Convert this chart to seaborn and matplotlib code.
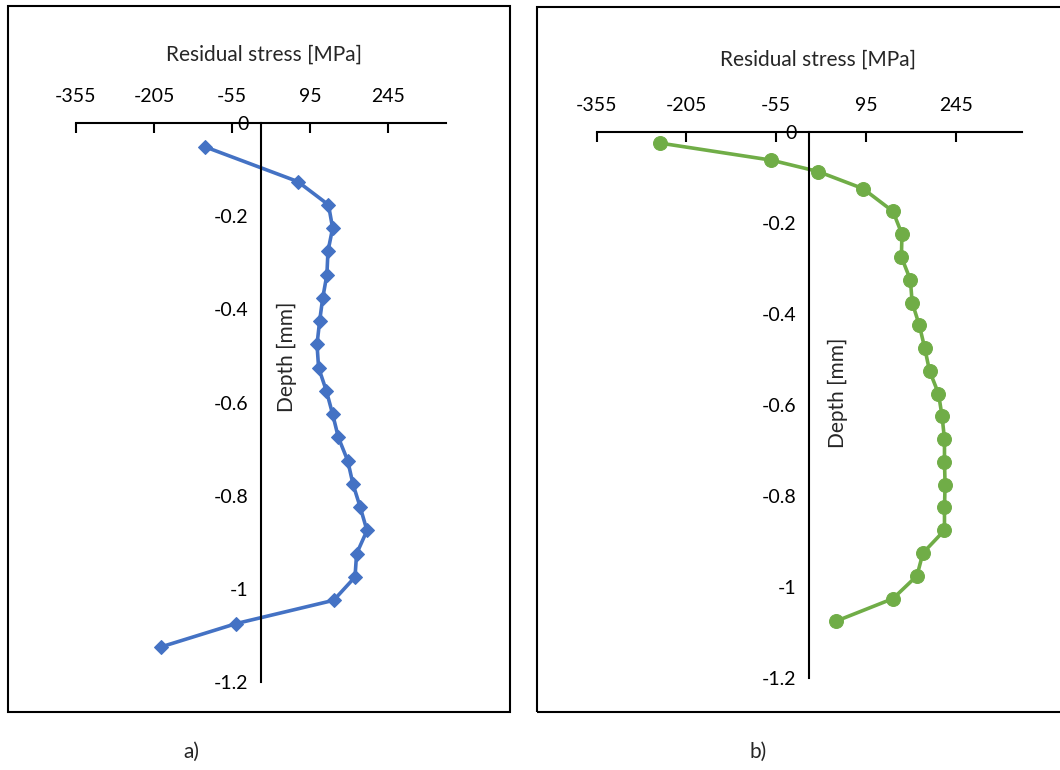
import pandas as pd
import matplotlib.pyplot as plt
import seaborn as sns
from matplotlib.patches import Rectangle
from matplotlib.ticker import FuncFormatter

# panel a) - diamonds, blue
stress_a = [-108, 71, 130, 138, 129, 127, 119, 113, 108, 111, 126, 138, 149, 167,
            177, 191, 204, 184, 181, 140, -47, -191]
depth_a = [-0.05, -0.125, -0.175, -0.225, -0.275, -0.325, -0.375, -0.425, -0.475,
           -0.525, -0.575, -0.625, -0.675, -0.725, -0.775, -0.825, -0.875, -0.925,
           -0.975, -1.025, -1.075, -1.125]

# panel b) - circles, green
stress_b = [-249, -63, 15, 90, 140, 155, 154, 169, 172, 184, 193, 201, 216, 222,
            226, 226, 227, 226, 226, 190, 180, 140, 44]
depth_b = [-0.025, -0.0625, -0.0875, -0.125, -0.175, -0.225, -0.275, -0.325, -0.375,
           -0.425, -0.475, -0.525, -0.575, -0.625, -0.675, -0.725, -0.775, -0.825,
           -0.875, -0.925, -0.975, -1.025, -1.075]

x_ticks = [-355, -205, -55, 95, 245]
y_ticks = [0, -0.2, -0.4, -0.6, -0.8, -1, -1.2]

sns.set_style("white")
plt.rcParams["font.family"] = ["Lato", "DejaVu Sans"]
plt.rcParams["axes.unicode_minus"] = False

fig = plt.figure(figsize=(10.6, 7.7), dpi=100)
W, H = 1060, 770


def px_axes(x0, y0, x1, y1):
    return fig.add_axes([x0 / W, 1 - y1 / H, (x1 - x0) / W, (y1 - y0) / H])


def style_panel(ax, label_xy, depth_xy, letter, letter_xy):
    ax.set_xlim(-355, 355)
    ax.set_ylim(-1.2, 0)
    ax.set_xticks(x_ticks)
    ax.set_yticks(y_ticks)
    ax.yaxis.set_major_formatter(FuncFormatter(lambda v, p: f"{v:g}"))
    for s in ["bottom", "right"]:
        ax.spines[s].set_visible(False)
    ax.spines["left"].set_position(("data", 0))
    for s in ["left", "top"]:
        ax.spines[s].set_color("black")
        ax.spines[s].set_linewidth(1.5)
    ax.xaxis.tick_top()
    ax.xaxis.set_label_position("top")
    ax.tick_params(axis="x", direction="in", length=7, width=1.5, pad=13,
                   labelsize=14, colors="black")
    ax.tick_params(axis="y", direction="out", length=5, width=1.5, pad=4,
                   labelsize=14, colors="black")
    ax.set_xlabel("")
    ax.set_ylabel("")
    ax.patch.set_alpha(0)
    fig.text(label_xy[0] / W, 1 - label_xy[1] / H, "Residual stress [MPa]",
             ha="center", va="center", fontsize=15)
    fig.text(depth_xy[0] / W, 1 - depth_xy[1] / H, "Depth [mm]", rotation=90,
             ha="center", va="center", fontsize=15)
    fig.text(letter_xy[0] / W, 1 - letter_xy[1] / H, letter,
             ha="center", va="center", fontsize=15)


# panel boxes
fig.patches.append(Rectangle((8 / W, 1 - 712 / H), 502 / W, 706 / H,
                             transform=fig.transFigure, fill=False,
                             edgecolor="black", linewidth=1.5))
fig.patches.append(Rectangle((537 / W, 1 - 712 / H), 530 / W, 705 / H,
                             transform=fig.transFigure, fill=False,
                             edgecolor="black", linewidth=1.5))

df_a = pd.DataFrame({"stress": stress_a, "depth": depth_a})
df_b = pd.DataFrame({"stress": stress_b, "depth": depth_b})

ax1 = px_axes(76, 123.4, 445.6, 681.7)
sns.lineplot(data=df_a, x="stress", y="depth", sort=False, estimator=None, ax=ax1,
             color="#4472C4", linewidth=2.6, marker="D", markersize=7,
             markeredgecolor="#4472C4", clip_on=False)
style_panel(ax1, (264, 55), (287, 357), "a)", (191, 752))

ax2 = px_axes(596.7, 131.7, 1021.7, 678.3)
sns.lineplot(data=df_b, x="stress", y="depth", sort=False, estimator=None, ax=ax2,
             color="#70AD47", linewidth=2.6, marker="o", markersize=10,
             markeredgecolor="#70AD47", clip_on=False)
style_panel(ax2, (818, 60), (838, 393), "b)", (758, 752))

fig.savefig("out.png", dpi=100)
